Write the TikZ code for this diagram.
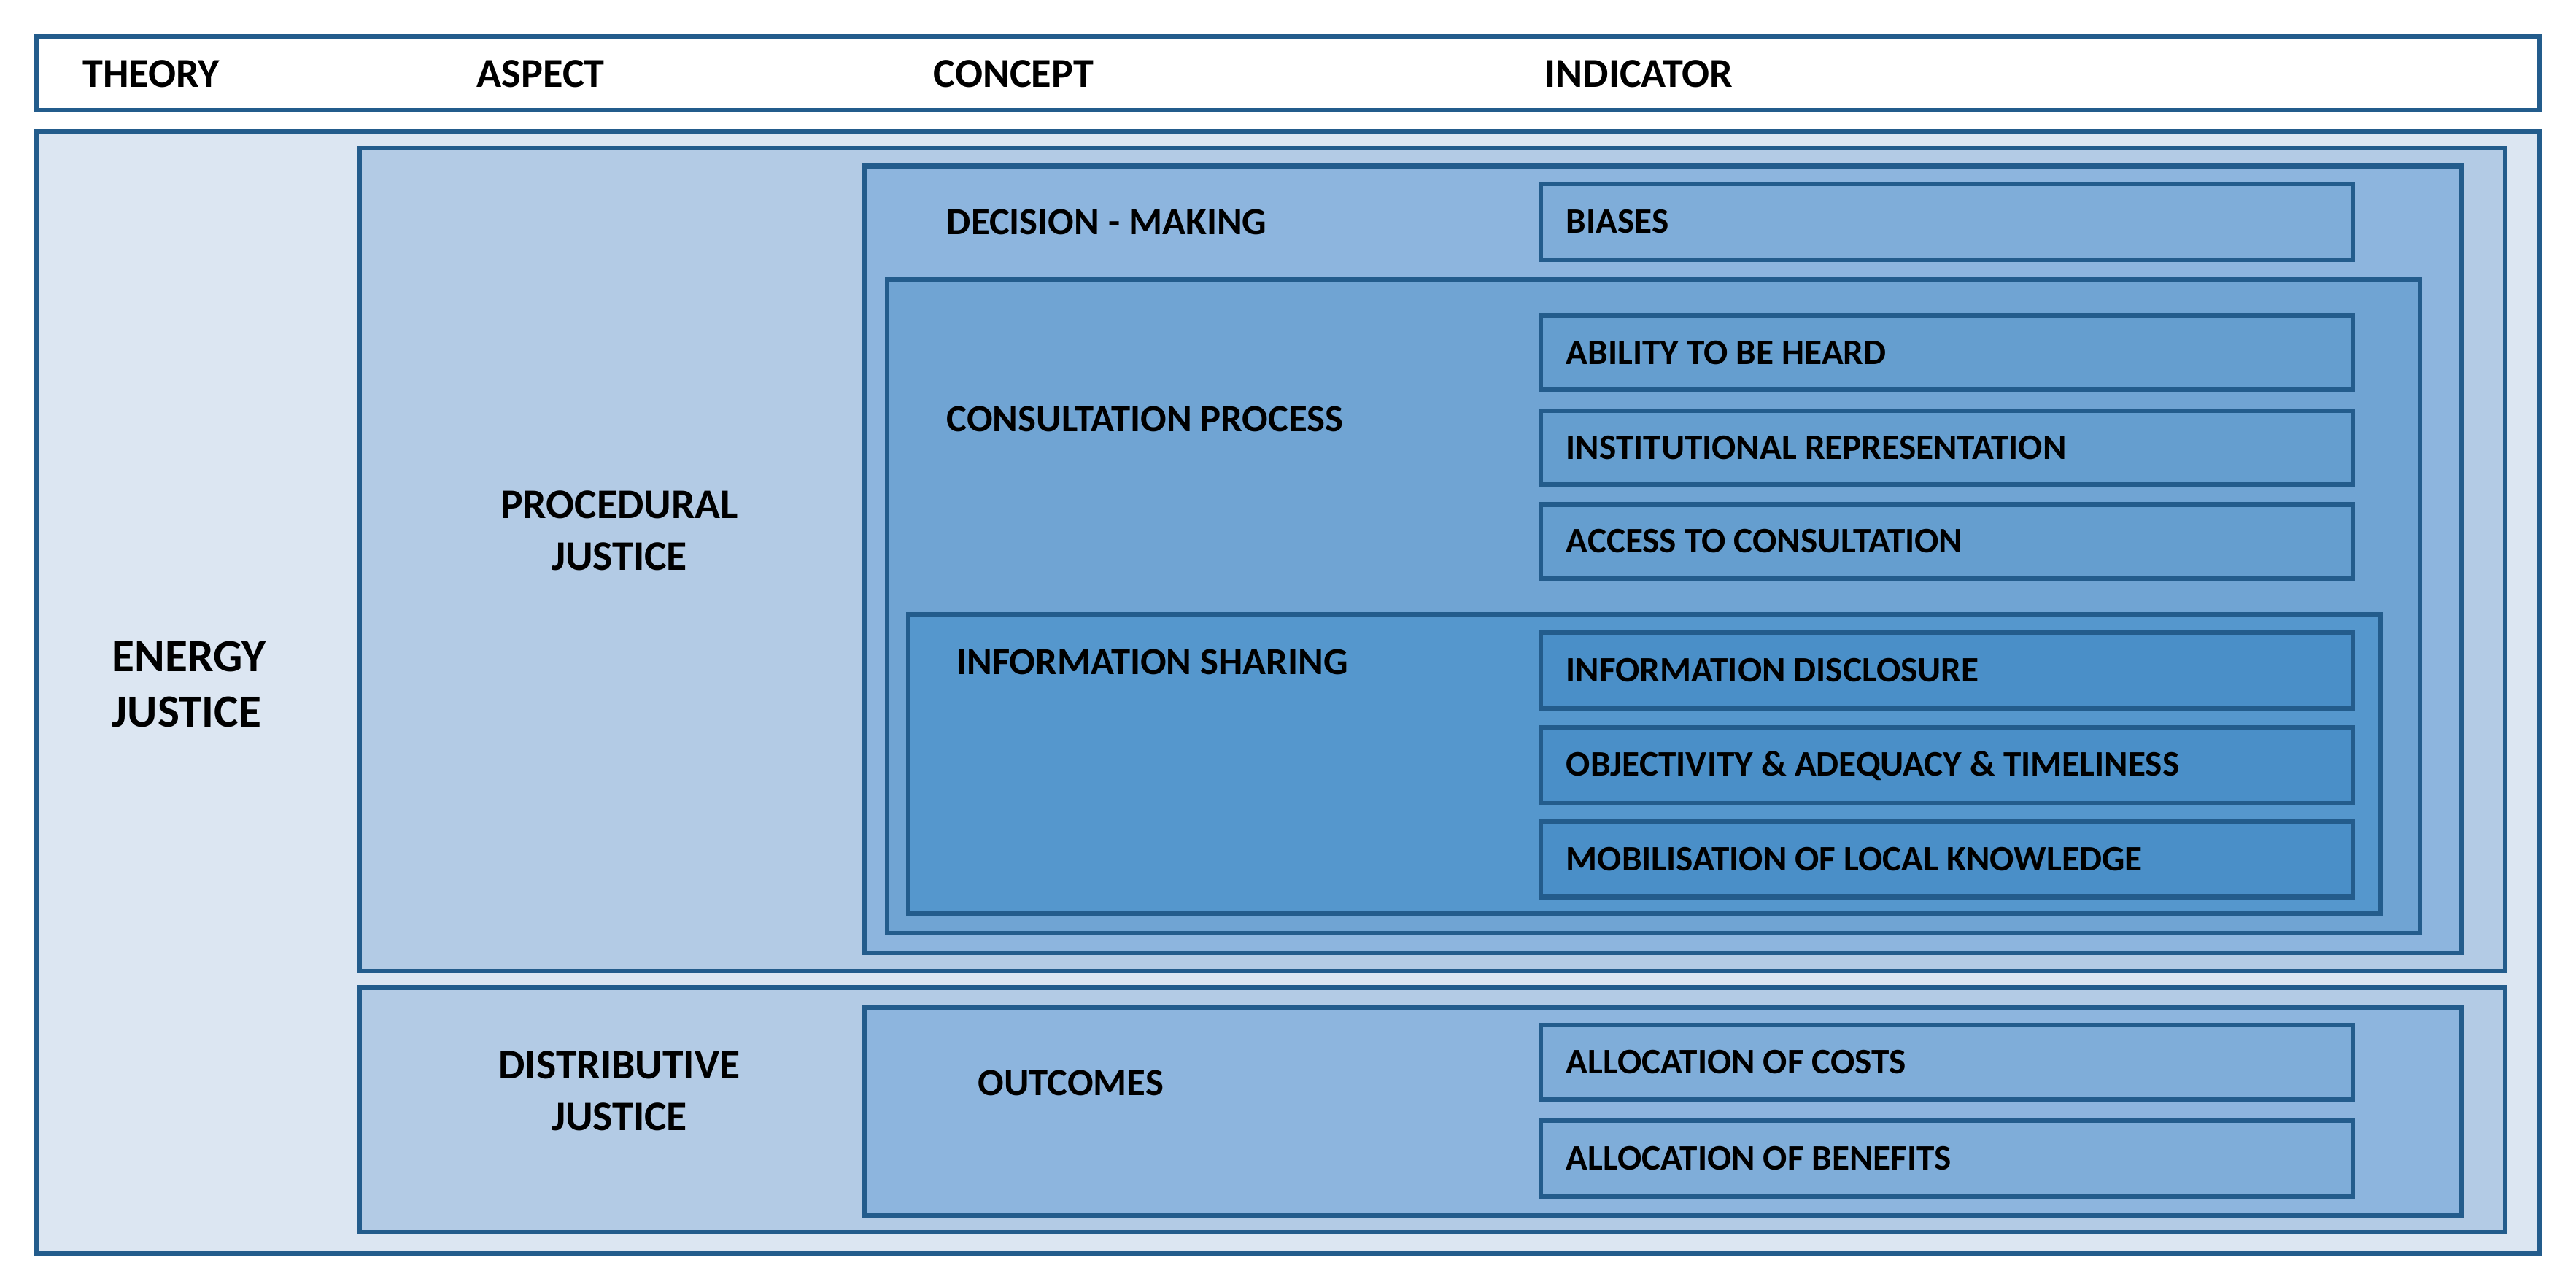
\documentclass[tikz,border=0pt]{standalone}
\usepackage{fontspec}
\setmainfont{Carlito}
\usetikzlibrary{fit}
\definecolor{edge}{HTML}{235C8C}
\definecolor{cOuter}{HTML}{DCE6F2}
\definecolor{cAspect}{HTML}{B3CBE5}
\definecolor{cConcept}{HTML}{8DB5DE}
\definecolor{cConsult}{HTML}{70A4D3}
\definecolor{cInfo}{HTML}{5597CD}
\definecolor{iConcept}{HTML}{7FADD9}
\definecolor{iConsult}{HTML}{659ECF}
\definecolor{iInfo}{HTML}{4A8FC8}
\begin{document}
\begin{tikzpicture}[x=0.02252cm,y=-0.02252cm,
  box/.style={draw=edge, line width=1.8pt, inner sep=0pt, outer sep=0pt},
  lbl/.style={font=\fontsize{14}{20.5}\selectfont\bfseries, inner sep=0pt, text=black},
  hdrfont/.style={font=\fontsize{16}{20}\selectfont\bfseries},
  thfont/.style={font=\fontsize{18}{21.8}\selectfont\bfseries},
  asfont/.style={font=\fontsize{16.4}{20}\selectfont\bfseries},
  cofont/.style={font=\fontsize{15}{18}\selectfont\bfseries},
  wlbl/.style={lbl, anchor=west},
  clbl/.style={lbl, align=center},
  ]
\useasboundingbox (0,0) rectangle (1568,783);
% header
\node[box, fill=white, fit={(22,22)(1546,67)}] (hdr) {};
\node[wlbl, hdrfont] (hTheory) at (50,45) {THEORY};
\node[wlbl, hdrfont] (hAspect) at (290,45) {ASPECT};
\node[wlbl, hdrfont] (hConcept) at (568,45) {CONCEPT};
\node[wlbl, hdrfont] (hIndicator) at (940,45) {INDICATOR};
% outer
\node[box, fill=cOuter, fit={(22,80)(1546,763)}] (outer) {};
\node[lbl, thfont, align=left, anchor=west] (energy) at (68,416.5) {ENERGY\\JUSTICE};
% procedural
\node[box, fill=cAspect, fit={(219,90)(1525,591)}] (proc) {};
\node[clbl, asfont] (procL) at (377,323) {PROCEDURAL\\JUSTICE};
% decision-making
\node[box, fill=cConcept, fit={(526,101)(1498,580)}] (dec) {};
\node[wlbl, cofont] (decL) at (576,135) {DECISION - MAKING};
\node[box, fill=iConcept, fit={(938,112)(1432,158)}] (biases) {};
\node[wlbl] (biasesL) at (953,135) {BIASES};
% consultation
\node[box, fill=cConsult, fit={(540,170)(1473,568)}] (cons) {};
\node[wlbl, cofont] (consL) at (576,255) {CONSULTATION PROCESS};
\node[box, fill=iConsult, fit={(938,192)(1432,237)}] (ability) {};
\node[wlbl] (abilityL) at (953,214.5) {ABILITY TO BE HEARD};
\node[box, fill=iConsult, fit={(938,250)(1432,295)}] (inst) {};
\node[wlbl] (instL) at (953,272.5) {INSTITUTIONAL REPRESENTATION};
\node[box, fill=iConsult, fit={(938,307)(1432,352)}] (access) {};
\node[wlbl] (accessL) at (953,329.5) {ACCESS TO CONSULTATION};
% information sharing
\node[box, fill=cInfo, fit={(553,374)(1449,556)}] (info) {};
\node[wlbl, cofont] (infoL) at (582,403) {INFORMATION SHARING};
\node[box, fill=iInfo, fit={(938,385)(1432,431)}] (discl) {};
\node[wlbl] (disclL) at (953,408) {INFORMATION DISCLOSURE};
\node[box, fill=iInfo, fit={(938,443)(1432,489)}] (obj) {};
\node[wlbl] (objL) at (953,466) {OBJECTIVITY \& ADEQUACY \& TIMELINESS};
\node[box, fill=iInfo, fit={(938,500)(1432,546)}] (mob) {};
\node[wlbl] (mobL) at (953,523) {MOBILISATION OF LOCAL KNOWLEDGE};
% distributive
\node[box, fill=cAspect, fit={(219,601)(1525,750)}] (dist) {};
\node[clbl, asfont] (distL) at (377,664) {DISTRIBUTIVE\\JUSTICE};
\node[box, fill=cConcept, fit={(526,613)(1498,740)}] (outc) {};
\node[wlbl, cofont] (outcL) at (595,659) {OUTCOMES};
\node[box, fill=iConcept, fit={(938,624)(1432,669)}] (costs) {};
\node[wlbl] (costsL) at (953,646.5) {ALLOCATION OF COSTS};
\node[box, fill=iConcept, fit={(938,682)(1432,728)}] (benef) {};
\node[wlbl] (benefL) at (953,705) {ALLOCATION OF BENEFITS};
\end{tikzpicture}
\end{document}
